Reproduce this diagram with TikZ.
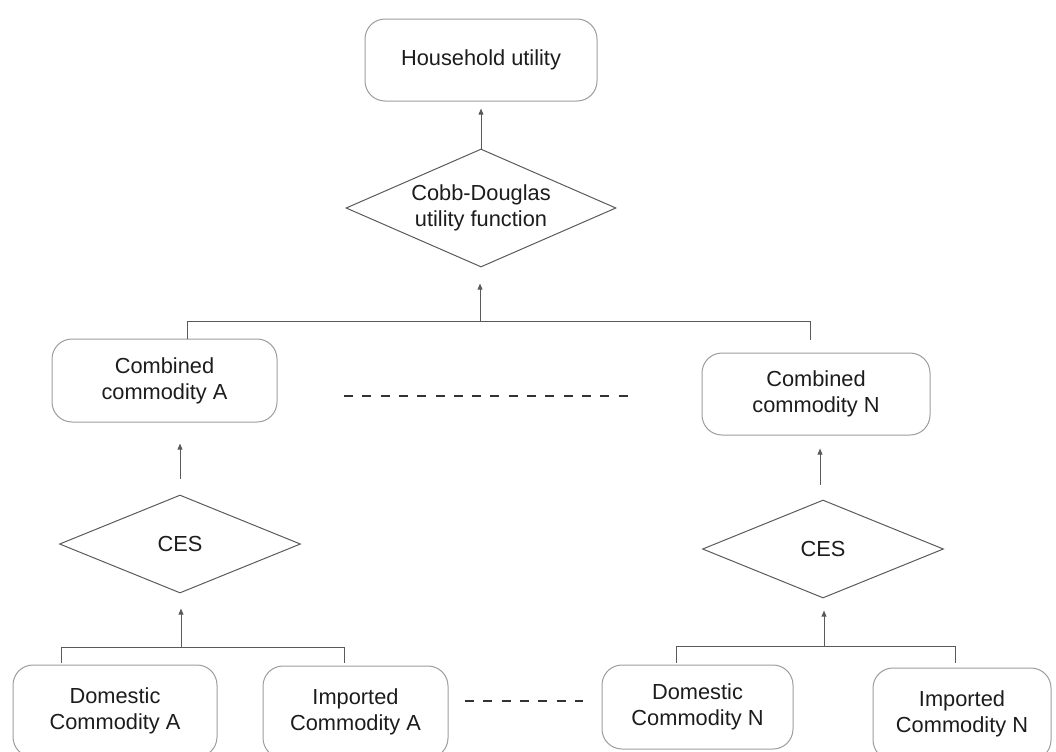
\documentclass[tikz,border=0pt]{standalone}
\usepackage{fontspec}
\setmainfont{Liberation Sans}
\usetikzlibrary{shapes.geometric,arrows.meta}
\definecolor{linegray}{HTML}{5A5A5A}
\definecolor{boxgray}{HTML}{9C9C9C}
\definecolor{txt}{HTML}{1C1C1C}
\definecolor{dashcol}{HTML}{333333}
\begin{document}
% coordinates are given in drawing units of 0.75pt, y growing downwards
\begin{tikzpicture}[x=0.75pt,y=-0.75pt,
  label font/.style={font=\fontsize{16.35}{19.3}\selectfont},
  box/.style={draw=boxgray, line width=0.75pt, rounded corners=15pt,
    minimum height=61.5pt, align=center, text=txt, inner sep=0pt, label font},
  choice/.style={draw=linegray, diamond, line width=0.75pt, inner sep=0pt,
    aspect=2, align=center, text=txt, label font},
  link/.style={draw=linegray, line width=0.75pt},
  up/.style={link, -{Triangle[length=4.5pt,width=3.6pt]}},
  dots/.style={draw=dashcol, line width=1.125pt, dash pattern=on 6.75pt off 6.975pt}]
\useasboundingbox (0,0) rectangle (1056,751);

% top level
\node[box, minimum width=174pt] (hh) at (481,60) {Household utility};
\node[choice, minimum width=202.5pt, minimum height=88.5pt] (cd) at (481,208)
  {Cobb-Douglas\\utility function};

% combined commodities
\node[box, minimum width=168.75pt, minimum height=62.25pt] (ca) at (164.5,380.5) {Combined\\commodity A};
\node[box, minimum width=171pt] (cn) at (816,394) {Combined\\commodity N};

% CES aggregators
\node[choice, minimum width=180.75pt, minimum height=73.5pt] (cesa) at (180,544) {CES};
\node[choice, minimum width=180.75pt, minimum height=73.5pt] (cesn) at (823,549) {CES};

% domestic and imported goods (the lower ones run past the bottom edge)
\node[box, minimum width=153pt, minimum height=69pt] (da) at (115,711) {Domestic\\Commodity A};
\node[box, minimum width=138.75pt, minimum height=69pt] (ia) at (355.5,712) {Imported\\Commodity A};
\node[box, minimum width=143.25pt, minimum height=63pt] (dn) at (697.5,707) {Domestic\\Commodity N};
\node[box, minimum width=133.5pt, minimum height=69pt] (in) at (962,714) {Imported\\Commodity N};

% Cobb-Douglas -> household utility
\draw[up, shorten >=5.25pt] (cd.north) -- (hh.south);

% combined commodities -> Cobb-Douglas
\coordinate (tl) at (187,321);
\coordinate (tm) at (480,321);
\coordinate (tr) at (810,321);
\coordinate (trend) at (810,340);
\draw[link] (tl |- ca.north) -- (tl) -- (tr) -- (trend);
\draw[up, shorten >=12pt] (tm) -- (tm |- cd.south);

% CES -> combined commodities
\draw[up, shorten <=12pt, shorten >=15.75pt] (cesa.north) -- (cesa.north |- ca.south);
\draw[up, shorten <=11.25pt, shorten >=9.75pt] ([xshift=-2.25pt]cesn.north) -- ([xshift=-2.25pt]cesn.north |- cn.south);

% goods -> CES, branch A
\coordinate (al) at (61,647);
\coordinate (am) at (181,647);
\coordinate (ar) at (344,647);
\coordinate (alend) at (61,663);
\coordinate (arend) at (344,663);
\draw[link] (alend) -- (al) -- (ar) -- (arend);
\draw[up, shorten >=11.25pt] (am) -- (am |- cesa.south);

% goods -> CES, branch N
\coordinate (nl) at (676,646);
\coordinate (nm) at (824,646);
\coordinate (nr) at (955,646);
\coordinate (nlend) at (676,663);
\coordinate (nrend) at (955,663);
\draw[link] (nlend) -- (nl) -- (nr) -- (nrend);
\draw[up, shorten >=9pt] (nm) -- (nm |- cesn.south);

% ellipses between the A and N groups
\coordinate (m1) at (344,396);
\coordinate (m2) at (636,396);
\draw[dots] (m1) -- (m2);
\coordinate (b1) at (465,701);
\coordinate (b2) at (583,701);
\draw[dots] (b1) -- (b2);
\end{tikzpicture}
\end{document}
